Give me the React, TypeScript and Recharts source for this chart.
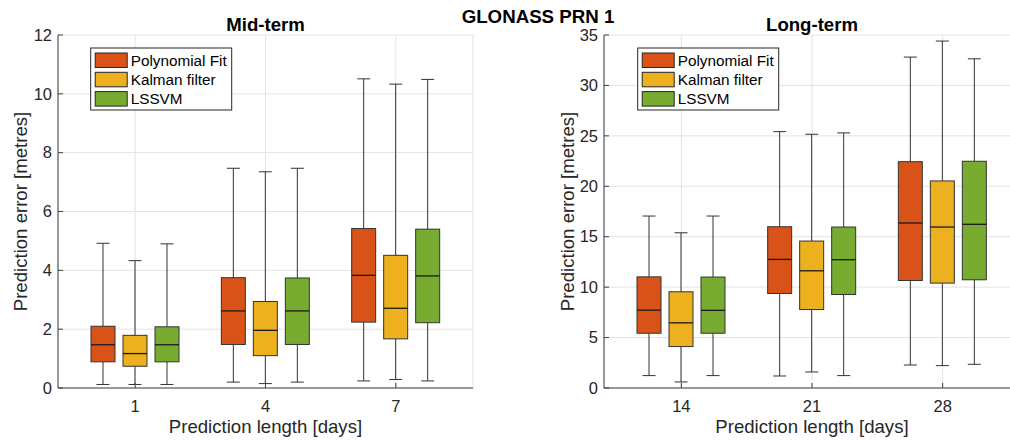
import { ComposedChart, Bar, XAxis, YAxis, CartesianGrid } from "recharts";

const midDays = ["1", "4", "7"];
const longDays = ["14", "21", "28"];

// each entry: [min, q1, median, q3, max]
const midPoly = [[0.12, 0.89, 1.47, 2.1, 4.92], [0.2, 1.48, 2.62, 3.75, 7.47], [0.24, 2.24, 3.83, 5.42, 10.51]];
const midKalman = [[0.12, 0.74, 1.17, 1.79, 4.33], [0.15, 1.1, 1.96, 2.94, 7.35], [0.29, 1.67, 2.71, 4.51, 10.33]];
const midLssvm = [[0.12, 0.89, 1.47, 2.08, 4.9], [0.2, 1.48, 2.62, 3.74, 7.47], [0.24, 2.22, 3.81, 5.4, 10.49]];

const longPoly = [[1.23, 5.43, 7.72, 11.02, 17.05], [1.19, 9.37, 12.75, 15.99, 25.42], [2.28, 10.66, 16.36, 22.44, 32.81]];
const longKalman = [[0.6, 4.11, 6.46, 9.54, 15.39], [1.59, 7.78, 11.62, 14.57, 25.16], [2.22, 10.4, 15.96, 20.53, 34.4]];
const longLssvm = [[1.23, 5.43, 7.7, 11.0, 17.05], [1.23, 9.27, 12.72, 15.96, 25.29], [2.35, 10.73, 16.23, 22.48, 32.64]];

const midTicks = [0, 2, 4, 6, 8, 10, 12];
const longTicks = [0, 5, 10, 15, 20, 25, 30, 35];

const seriesKeys = ["poly", "kalman", "lssvm"];
const seriesNames = ["Polynomial Fit", "Kalman filter", "LSSVM"];
const seriesColors = ["#D95319", "#EDB120", "#77AC30"];

const FONT = "'Liberation Sans', Arial, sans-serif";
const TXT = "#262626";

const midData = midDays.map((d, i) => ({ day: d, poly: midPoly[i], kalman: midKalman[i], lssvm: midLssvm[i] }));
const longData = longDays.map((d, i) => ({ day: d, poly: longPoly[i], kalman: longKalman[i], lssvm: longLssvm[i] }));

function BoxShape(props: any) {
  const { x, y, width, height, payload, skey, color } = props;
  const [mn, q1, md, q3, mx] = payload[skey];
  const top = Math.min(y, y + height);
  const bot = Math.max(y, y + height);
  const at = (v: number) => bot - ((v - mn) / (mx - mn)) * (bot - top);
  const cx = x + width / 2;
  const cap = 6.5;
  return (
    <g>
      <line x1={cx} x2={cx} y1={at(mx)} y2={at(q3)} stroke="#333" strokeWidth={1} />
      <line x1={cx} x2={cx} y1={at(q1)} y2={at(mn)} stroke="#333" strokeWidth={1} />
      <line x1={cx - cap} x2={cx + cap} y1={at(mx)} y2={at(mx)} stroke="#333" strokeWidth={1} />
      <line x1={cx - cap} x2={cx + cap} y1={at(mn)} y2={at(mn)} stroke="#333" strokeWidth={1} />
      <rect x={x} y={at(q3)} width={width} height={at(q1) - at(q3)} fill={color} stroke="#333" strokeWidth={1} />
      <line x1={x} x2={x + width} y1={at(md)} y2={at(md)} stroke="#1a1a1a" strokeWidth={1.3} />
    </g>
  );
}

const YTick = (p: any) => (
  <g>
    <line x1={p.x} x2={p.x + 5} y1={p.y} y2={p.y} stroke="#404040" />
    <text x={p.x - 6} y={p.y} dy="0.35em" textAnchor="end" fontSize={16.5} fill={TXT} fontFamily={FONT}>
      {p.payload.value}
    </text>
  </g>
);

const XTick = (p: any) => (
  <g>
    <line x1={p.x} x2={p.x} y1={p.y} y2={p.y - 5} stroke="#404040" />
    <text x={p.x} y={p.y + 24} textAnchor="middle" fontSize={16.5} fill={TXT} fontFamily={FONT}>
      {p.payload.value}
    </text>
  </g>
);

function Panel({ data, domain, ticks, left, width, margin }: any) {
  return (
    <div style={{ position: "absolute", left, top: 0 }}>
      <ComposedChart width={width} height={440} data={data} margin={margin} barGap={8}>
        <CartesianGrid stroke="#e3e3e3" />
        <XAxis
          dataKey="day"
          type="category"
          padding={{ left: 12, right: 12 }}
          height={30}
          tickSize={0}
          tickMargin={0}
          tickLine={false}
          axisLine={{ stroke: "#404040" }}
          tick={<XTick />}
        />
        <YAxis
          domain={domain}
          ticks={ticks}
          type="number"
          width={50}
          tickSize={0}
          tickMargin={0}
          tickLine={false}
          axisLine={{ stroke: "#404040" }}
          tick={<YTick />}
        />
        {seriesKeys.map((k, i) => (
          <Bar
            key={k}
            dataKey={(r: any) => [r[k][0], r[k][4]]}
            barSize={24}
            isAnimationActive={false}
            shape={(p: any) => <BoxShape {...p} skey={k} color={seriesColors[i]} />}
          />
        ))}
      </ComposedChart>
    </div>
  );
}

function LegendBox({ x }: { x: number }) {
  return (
    <g>
      <rect x={x} y={48} width={141} height={62} fill="#fff" stroke="#262626" strokeWidth={1} />
      {seriesNames.map((n, i) => (
        <g key={n}>
          <rect x={x + 4.5} y={53 + i * 19.3} width={32} height={14.5} fill={seriesColors[i]} stroke="#262626" />
          <text x={x + 40} y={65.5 + i * 19.3} fontSize={15.3} fill="#000" fontFamily={FONT}>
            {n}
          </text>
        </g>
      ))}
    </g>
  );
}

export default function App() {
  return (
    <div style={{ position: "fixed", left: 0, top: 0, width: 1010, height: 440, overflow: "hidden", background: "#fff" }}>
      <Panel data={midData} domain={[0, 12]} ticks={midTicks} left={0} width={505} margin={{ top: 35, right: 32, bottom: 22, left: 8 }} />
      <Panel data={longData} domain={[0, 35]} ticks={longTicks} left={505} width={520} margin={{ top: 35, right: 5, bottom: 22, left: 49 }} />
      <svg width={1010} height={440} style={{ position: "absolute", left: 0, top: 0, pointerEvents: "none" }}>
        <text x={538} y={23.3} textAnchor="middle" fontSize={18.7} fontWeight="bold" fill="#000" fontFamily={FONT}>
          GLONASS PRN 1
        </text>
        <text x={265.5} y={31} textAnchor="middle" fontSize={18.6} fontWeight="bold" fill="#000" fontFamily={FONT}>
          Mid-term
        </text>
        <text x={812} y={31} textAnchor="middle" fontSize={18.6} fontWeight="bold" fill="#000" fontFamily={FONT}>
          Long-term
        </text>
        <text x={265.5} y={433} textAnchor="middle" fontSize={18.6} fill={TXT} fontFamily={FONT}>
          Prediction length [days]
        </text>
        <text x={812} y={433} textAnchor="middle" fontSize={18.6} fill={TXT} fontFamily={FONT}>
          Prediction length [days]
        </text>
        <text x={27} y={211.5} textAnchor="middle" fontSize={18.6} fill={TXT} fontFamily={FONT} transform="rotate(-90 27 211.5)">
          Prediction error [metres]
        </text>
        <text x={573.5} y={211.5} textAnchor="middle" fontSize={18.6} fill={TXT} fontFamily={FONT} transform="rotate(-90 573.5 211.5)">
          Prediction error [metres]
        </text>
        <LegendBox x={90.7} />
        <LegendBox x={637.7} />
      </svg>
    </div>
  );
}
